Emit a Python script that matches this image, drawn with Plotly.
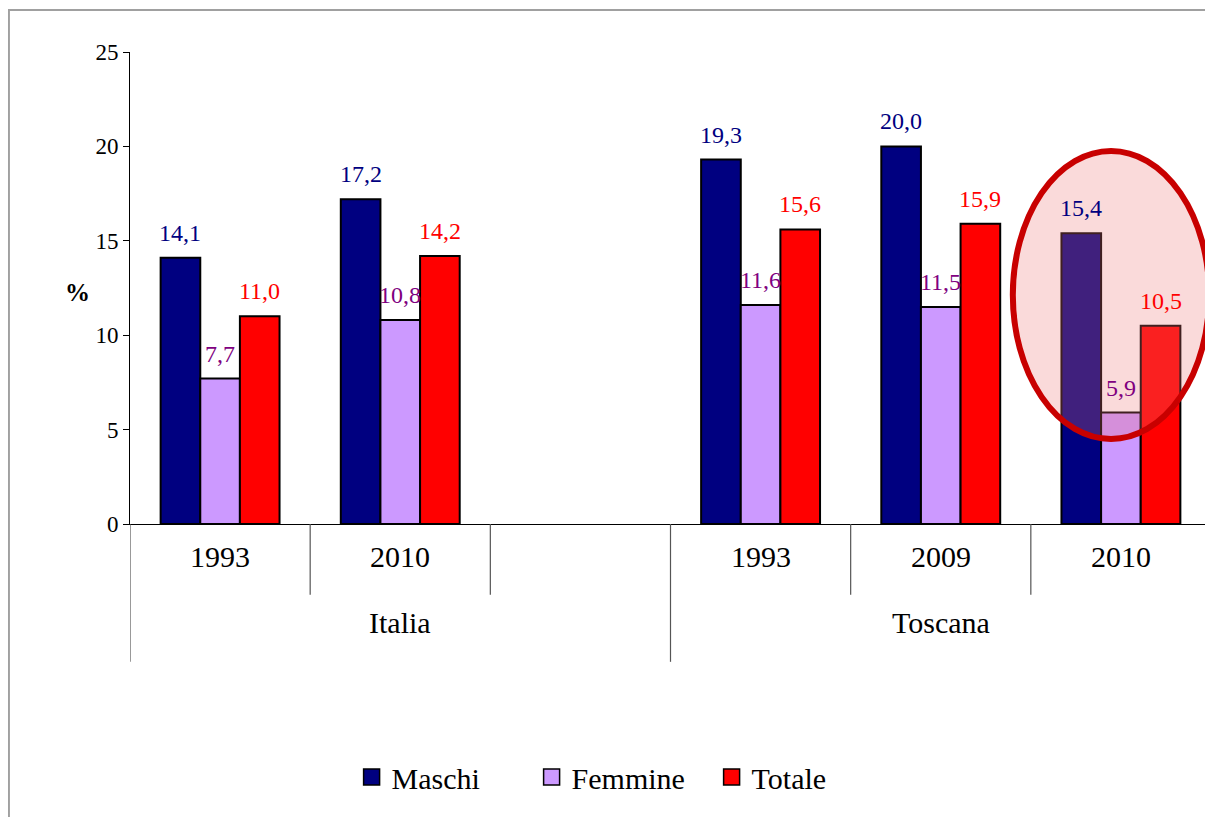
import plotly.graph_objects as go

# categorie sull'asse x (lo slot vuoto separa Italia da Toscana)
anni = ["1993", "2010", "", "1993", "2009", "2010"]
aree = ["Italia", "Toscana"]
aree_centro = [1, 4]
maschi = [14.1, 17.2, None, 19.3, 20.0, 15.4]
femmine = [7.7, 10.8, None, 11.6, 11.5, 5.9]
totale = [11.0, 14.2, None, 15.6, 15.9, 10.5]

FONT = "Liberation Serif, Times New Roman, serif"
pos = list(range(len(anni)))
bargap = 0.34
bw = (1 - bargap) / 3

serie = [
    ("Maschi", maschi, "#000080", "#000080"),
    ("Femmine", femmine, "#CC99FF", "#800080"),
    ("Totale", totale, "#FF0000", "#FF0000"),
]

fig = go.Figure()
for nome, valori, colore, _ in serie:
    fig.add_trace(go.Bar(
        x=pos, y=valori, name=nome,
        marker=dict(color=colore, line=dict(color="black", width=2)),
        showlegend=False
    ))
    # voce di legenda con quadrato più grande
    fig.add_trace(go.Scatter(
        x=[None], y=[None], mode="markers", name=nome,
        marker=dict(symbol="square", size=16, color=colore,
                    line=dict(color="black", width=1.5))
    ))

annotations = []
for i, (nome, valori, _, col_testo) in enumerate(serie):
    for xi, v in zip(pos, valori):
        if v is None:
            continue
        annotations.append(dict(
            x=xi + (i - 1) * bw, y=v, xref="x", yref="y",
            text=f"{v:.1f}".replace(".", ","), showarrow=False,
            yanchor="middle", yshift=25,
            font=dict(family=FONT, size=24, color=col_testo)
        ))

for xi, a in zip(pos, anni):
    if a:
        annotations.append(dict(x=xi, y=-0.108, xref="x", yref="paper", text=a,
                                showarrow=False, font=dict(family=FONT, size=30, color="black")))
for xc, a in zip(aree_centro, aree):
    annotations.append(dict(x=xc, y=-0.248, xref="x", yref="paper", text=a,
                            showarrow=False, font=dict(family=FONT, size=30, color="black")))

annotations.append(dict(x=-0.062, y=0.49, xref="paper", yref="paper", text="<b>%</b>",
                        showarrow=False, font=dict(family=FONT, size=25, color="black")))

shapes = []
# separatori dell'asse delle categorie
for xb in [0.5, 1.5, 3.5, 4.5]:
    shapes.append(dict(type="line", xref="x", yref="paper", x0=xb, x1=xb, y0=0, y1=-0.150,
                       line=dict(color="#555555", width=1.2)))
for xb in [-0.5, 2.5, 5.5]:
    shapes.append(dict(type="line", xref="x", yref="paper", x0=xb, x1=xb, y0=0, y1=-0.292,
                       line=dict(color="#555555", width=1.2)))

# ellisse evidenziata
shapes.append(dict(type="circle", xref="x", yref="y", x0=4.40, x1=5.49, y0=4.5, y1=19.76,
                   line=dict(color="#C80000", width=6), fillcolor="rgba(235,120,120,0.27)",
                   layer="above"))

# bordo grigio della figura
shapes.append(dict(type="rect", xref="paper", yref="paper", x0=-0.112, x1=1.2, y0=-1.2, y1=1.089,
                   line=dict(color="#A0A0A0", width=2)))

# la pagina aggiunge 8px di margine: margini compensati
fig.update_layout(
    width=1213, height=817,
    margin=dict(l=122, r=10, t=44, b=301),
    paper_bgcolor="white", plot_bgcolor="white",
    barmode="group", bargap=bargap, bargroupgap=0,
    xaxis=dict(range=[-0.5, 5.5], showticklabels=False, showgrid=False, zeroline=False,
               showline=True, linecolor="black", linewidth=1, ticks=""),
    yaxis=dict(range=[0, 25], dtick=5, showgrid=False, zeroline=False,
               showline=True, linecolor="black", linewidth=1, ticks="outside", ticklen=6,
               tickcolor="black", tickfont=dict(family=FONT, size=23, color="black")),
    legend=dict(orientation="h", x=0.205, xanchor="left", y=-0.536, yanchor="middle",
                font=dict(family=FONT, size=30, color="black"),
                entrywidth=135, itemwidth=30),
    annotations=annotations,
    shapes=shapes,
)

fig.write_html("out.html")
